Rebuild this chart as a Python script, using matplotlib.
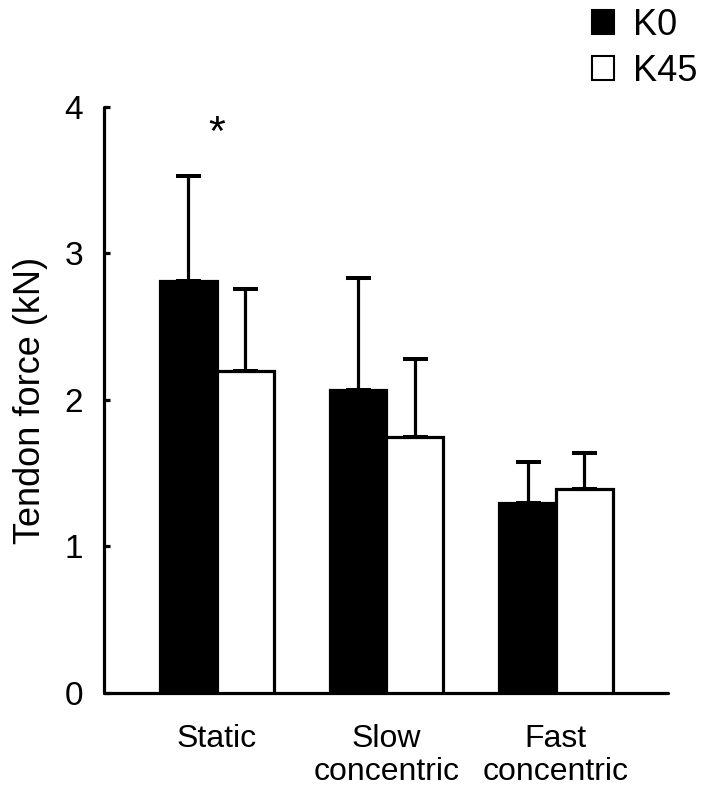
import numpy as np
import matplotlib
matplotlib.use('Agg')
import matplotlib.pyplot as plt
from matplotlib.patches import Patch

# ── Data ─────────────────────────────────────────────────────────────────────
conditions = ['Static', 'Slow\nconcentric', 'Fast\nconcentric']
k0_mean  = [2.81, 2.07, 1.30]
k0_sd    = [0.72, 0.76, 0.28]
k45_mean = [2.20, 1.75, 1.39]
k45_sd   = [0.56, 0.53, 0.25]
series_labels = ['K0', 'K45']
yticks = [0, 1, 2, 3, 4]

plt.rcParams.update({
    'font.family': ['Liberation Sans', 'DejaVu Sans'],
    'font.size':   23,
})

LW = 2.3
fig = plt.figure(figsize=(7.03, 7.89), dpi=100)
ax = fig.add_axes([0.148, 0.1217, 0.802, 0.7427])

x = np.arange(len(conditions))
width = 0.335

err_kw = dict(elinewidth=LW, capsize=9, capthick=LW + 0.6, ecolor='black')
ax.bar(x - width / 2, k0_mean, width, color='black', edgecolor='black',
       linewidth=LW, yerr=[np.zeros(3), k0_sd], error_kw=err_kw, zorder=3)
ax.bar(x + width / 2, k45_mean, width, color='white', edgecolor='black',
       linewidth=LW, yerr=[np.zeros(3), k45_sd], error_kw=err_kw, zorder=3)

# significance marker over the static pair
ax.text(x[0], 3.74, '*', ha='center', va='baseline', fontsize=31)

ax.set_xlim(-0.665, 2.66)
ax.set_ylim(0, 4)
ax.set_yticks(yticks)
ax.set_xticks(x)
ax.set_xticklabels(conditions, linespacing=1.15)
ax.set_ylabel('Tendon force (kN)', fontsize=26, labelpad=12)

for side in ['top', 'right']:
    ax.spines[side].set_visible(False)
for side in ['left', 'bottom']:
    ax.spines[side].set_linewidth(LW)
    ax.spines[side].set_capstyle('round')
ax.tick_params(axis='y', direction='in', length=4, width=LW, pad=15,
               labelsize=24)
ax.tick_params(axis='x', length=0, pad=22)

handles = [Patch(facecolor='black', edgecolor='black', linewidth=1.5),
           Patch(facecolor='white', edgecolor='black', linewidth=1.5)]
fig.legend(handles, series_labels, loc='upper right',
           bbox_to_anchor=(1.017, 1.013),
           frameon=False, fontsize=26, handlelength=0.62, handleheight=0.62,
           handletextpad=0.5, labelspacing=0.3, borderaxespad=0.1)

fig.savefig('out.png', dpi=100, facecolor='white')
